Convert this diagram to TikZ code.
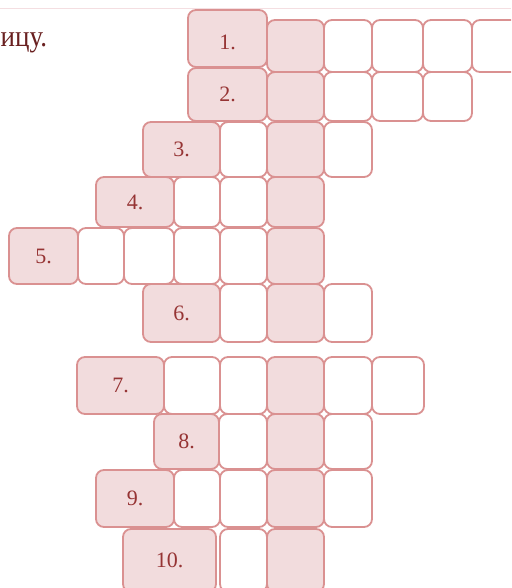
\documentclass[tikz,border=0pt]{standalone}
\usepackage{fontspec}
\setmainfont{Liberation Serif}
\definecolor{cellborder}{RGB}{218,145,145}
\definecolor{cellfill}{RGB}{242,220,221}
\definecolor{numtext}{RGB}{150,52,52}
\definecolor{headtext}{RGB}{105,32,32}
\definecolor{rulecol}{RGB}{244,222,225}
\tikzset{
  box/.style={draw=cellborder, line width=1.8pt, rounded corners=8pt, inner sep=0pt, outer sep=0pt,
    text=numtext, font=\fontsize{22}{26}\selectfont},
  whitebox/.style={box, fill=white},
  pinkbox/.style={box, fill=cellfill},
  numtxt/.style={inner sep=0pt, text=numtext, font=\fontsize{22}{26}\selectfont},
}
% #1 opts, #2 name, #3 style, #4 x1, #5 y1, #6 x2, #7 y2, #8 text
\newcommand\xcell[8][]{\node[#3, minimum width={(#6)-(#4)}, minimum height={(#7)-(#5)}, #1] (#2) at ({((#4)+(#6))/2},{((#5)+(#7))/2}) {#8};}
\begin{document}
\begin{tikzpicture}[x=1pt,y=-1pt]
\useasboundingbox (0,0) rectangle (511,588);
\clip (0,0) rectangle (511,588);
\coordinate (ruleL) at (0,8.5);
\coordinate (ruleR) at (511,8.5);
\draw[rulecol, line width=1.6pt] (ruleL) -- (ruleR);
\node[anchor=base west, inner sep=0pt, text=headtext, xscale=0.9, font=\fontsize{30}{34}\selectfont] (head) at (0.5,47) {ицу.};
% row 1
\xcell{L1}{pinkbox}{188}{10}{267}{67}{}
\node[numtxt] (t1) at (227.5,42) {1.};
\xcell{r1a}{pinkbox}{267}{20}{324}{72}{}
\xcell{r1b}{whitebox}{324}{20}{372}{72}{}
\xcell{r1c}{whitebox}{372}{20}{423}{72}{}
\xcell{r1d}{whitebox}{423}{20}{472}{72}{}
\xcell{r1e}{whitebox}{472}{20}{532}{72}{}
% row 2
\xcell{L2}{pinkbox}{188}{68}{267}{121}{2.}
\xcell{r2a}{pinkbox}{267}{72}{324}{121}{}
\xcell{r2b}{whitebox}{324}{72}{372}{121}{}
\xcell{r2c}{whitebox}{372}{72}{423}{121}{}
\xcell{r2d}{whitebox}{423}{72}{472}{121}{}
% row 3
\xcell{L3}{pinkbox}{143}{122}{220}{177}{3.}
\xcell{r3a}{whitebox}{220}{122}{267}{177}{}
\xcell{r3b}{pinkbox}{267}{122}{324}{177}{}
\xcell{r3c}{whitebox}{324}{122}{372}{177}{}
% row 4
\xcell{L4}{pinkbox}{96}{177}{174}{227}{4.}
\xcell{r4a}{whitebox}{174}{177}{220}{227}{}
\xcell{r4b}{whitebox}{220}{177}{267}{227}{}
\xcell{r4c}{pinkbox}{267}{177}{324}{227}{}
% row 5
\xcell{L5}{pinkbox}{9}{228}{78}{284}{5.}
\xcell{r5a}{whitebox}{78}{228}{124}{284}{}
\xcell{r5b}{whitebox}{124}{228}{174}{284}{}
\xcell{r5c}{whitebox}{174}{228}{220}{284}{}
\xcell{r5d}{whitebox}{220}{228}{267}{284}{}
\xcell{r5e}{pinkbox}{267}{228}{324}{284}{}
% row 6
\xcell{L6}{pinkbox}{143}{284}{220}{342}{6.}
\xcell{r6a}{whitebox}{220}{284}{267}{342}{}
\xcell{r6b}{pinkbox}{267}{284}{324}{342}{}
\xcell{r6c}{whitebox}{324}{284}{372}{342}{}
% row 7
\xcell{L7}{pinkbox}{77}{357}{164}{414}{7.}
\xcell{r7a}{whitebox}{164}{357}{220}{414}{}
\xcell{r7b}{whitebox}{220}{357}{267}{414}{}
\xcell{r7c}{pinkbox}{267}{357}{324}{414}{}
\xcell{r7d}{whitebox}{324}{357}{372}{414}{}
\xcell{r7e}{whitebox}{372}{357}{424}{414}{}
% row 8
\xcell{L8}{pinkbox}{154}{414}{219}{469}{8.}
\xcell{r8a}{whitebox}{219}{414}{267}{469}{}
\xcell{r8b}{pinkbox}{267}{414}{324}{469}{}
\xcell{r8c}{whitebox}{324}{414}{372}{469}{}
% row 9
\xcell{L9}{pinkbox}{96}{470}{174}{527}{9.}
\xcell{r9a}{whitebox}{174}{470}{220}{527}{}
\xcell{r9b}{whitebox}{220}{470}{267}{527}{}
\xcell{r9c}{pinkbox}{267}{470}{324}{527}{}
\xcell{r9d}{whitebox}{324}{470}{372}{527}{}
% row 10
\xcell{L10}{pinkbox}{123}{529}{216}{592}{10.}
\xcell{r10a}{whitebox}{220}{529}{267}{592}{}
\xcell{r10b}{pinkbox}{267}{529}{324}{592}{}
\end{tikzpicture}
\end{document}
